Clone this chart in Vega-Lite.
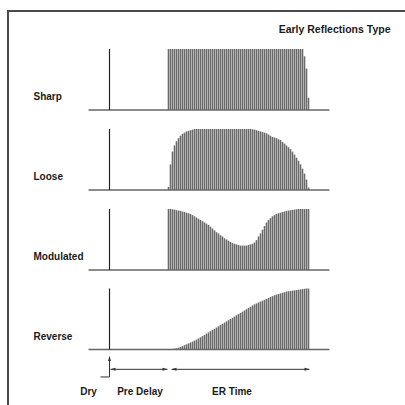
{
  "$schema": "https://vega.github.io/schema/vega-lite/v6.json",
  "width": 397,
  "height": 394,
  "autosize": {"type": "none"},
  "padding": {"left": 8, "top": 11, "right": 0, "bottom": 0},
  "background": "white",
  "view": {"stroke": null, "fill": "white"},
  "config": {"axis": {"disable": true}, "legend": {"disable": true}, "font": "Liberation Sans"},
  "datasets": {
    "sharp": [
      {"t":80,"h":1},{"t":82,"h":1},{"t":84,"h":1},{"t":86,"h":1},{"t":88,"h":1},{"t":90,"h":1},{"t":92,"h":1},{"t":94,"h":1},{"t":96,"h":1},{"t":98,"h":1},
      {"t":100,"h":1},{"t":102,"h":1},{"t":104,"h":1},{"t":106,"h":1},{"t":108,"h":1},{"t":110,"h":1},{"t":112,"h":1},{"t":114,"h":1},{"t":116,"h":1},{"t":118,"h":1},
      {"t":120,"h":1},{"t":122,"h":1},{"t":124,"h":1},{"t":126,"h":1},{"t":128,"h":1},{"t":130,"h":1},{"t":132,"h":1},{"t":134,"h":1},{"t":136,"h":1},{"t":138,"h":1},
      {"t":140,"h":1},{"t":142,"h":1},{"t":144,"h":1},{"t":146,"h":1},{"t":148,"h":1},{"t":150,"h":1},{"t":152,"h":1},{"t":154,"h":1},{"t":156,"h":1},{"t":158,"h":1},
      {"t":160,"h":1},{"t":162,"h":1},{"t":164,"h":1},{"t":166,"h":1},{"t":168,"h":1},{"t":170,"h":1},{"t":172,"h":1},{"t":174,"h":1},{"t":176,"h":1},{"t":178,"h":1},
      {"t":180,"h":1},{"t":182,"h":1},{"t":184,"h":1},{"t":186,"h":1},{"t":188,"h":1},{"t":190,"h":1},{"t":192,"h":1},{"t":194,"h":1},{"t":196,"h":1},{"t":198,"h":1},
      {"t":200,"h":1},{"t":202,"h":1},{"t":204,"h":1},{"t":206,"h":1},{"t":208,"h":1},{"t":210,"h":1},{"t":212,"h":1},{"t":214,"h":1},{"t":216,"h":0.88},{"t":218,"h":0.68},
      {"t":220,"h":0.2}
    ],
    "loose": [
      {"t":80,"h":0.05},{"t":82,"h":0.42},{"t":84,"h":0.63},{"t":86,"h":0.73},{"t":88,"h":0.8},{"t":90,"h":0.85},{"t":92,"h":0.89},{"t":94,"h":0.92},{"t":96,"h":0.94},{"t":98,"h":0.96},
      {"t":100,"h":0.97},{"t":102,"h":0.98},{"t":104,"h":0.99},{"t":106,"h":1},{"t":108,"h":1},{"t":110,"h":1},{"t":112,"h":1},{"t":114,"h":1},{"t":116,"h":1},{"t":118,"h":1},
      {"t":120,"h":1},{"t":122,"h":1},{"t":124,"h":1},{"t":126,"h":1},{"t":128,"h":1},{"t":130,"h":1},{"t":132,"h":1},{"t":134,"h":1},{"t":136,"h":1},{"t":138,"h":1},
      {"t":140,"h":1},{"t":142,"h":1},{"t":144,"h":1},{"t":146,"h":1},{"t":148,"h":1},{"t":150,"h":1},{"t":152,"h":1},{"t":154,"h":1},{"t":156,"h":1},{"t":158,"h":1},
      {"t":160,"h":1},{"t":162,"h":1},{"t":164,"h":0.995},{"t":166,"h":0.99},{"t":168,"h":0.98},{"t":170,"h":0.97},{"t":172,"h":0.96},{"t":174,"h":0.95},{"t":176,"h":0.94},{"t":178,"h":0.93},
      {"t":180,"h":0.91},{"t":182,"h":0.89},{"t":184,"h":0.87},{"t":186,"h":0.86},{"t":188,"h":0.85},{"t":190,"h":0.83},{"t":192,"h":0.82},{"t":194,"h":0.79},{"t":196,"h":0.76},{"t":198,"h":0.73},
      {"t":200,"h":0.7},{"t":202,"h":0.67},{"t":204,"h":0.63},{"t":206,"h":0.58},{"t":208,"h":0.53},{"t":210,"h":0.48},{"t":212,"h":0.42},{"t":214,"h":0.35},{"t":216,"h":0.27},{"t":218,"h":0.17},
      {"t":220,"h":0.04}
    ],
    "modulated": [
      {"t":80,"h":1},{"t":82,"h":1},{"t":84,"h":0.995},{"t":86,"h":0.99},{"t":88,"h":0.98},{"t":90,"h":0.975},{"t":92,"h":0.97},{"t":94,"h":0.96},{"t":96,"h":0.95},{"t":98,"h":0.94},
      {"t":100,"h":0.93},{"t":102,"h":0.92},{"t":104,"h":0.9},{"t":106,"h":0.88},{"t":108,"h":0.86},{"t":110,"h":0.84},{"t":112,"h":0.82},{"t":114,"h":0.8},{"t":116,"h":0.78},{"t":118,"h":0.76},
      {"t":120,"h":0.74},{"t":122,"h":0.71},{"t":124,"h":0.68},{"t":126,"h":0.65},{"t":128,"h":0.62},{"t":130,"h":0.6},{"t":132,"h":0.57},{"t":134,"h":0.55},{"t":136,"h":0.52},{"t":138,"h":0.5},
      {"t":140,"h":0.48},{"t":142,"h":0.46},{"t":144,"h":0.44},{"t":146,"h":0.43},{"t":148,"h":0.42},{"t":150,"h":0.41},{"t":152,"h":0.4},{"t":154,"h":0.4},{"t":156,"h":0.4},{"t":158,"h":0.4},
      {"t":160,"h":0.41},{"t":162,"h":0.42},{"t":164,"h":0.43},{"t":166,"h":0.45},{"t":168,"h":0.49},{"t":170,"h":0.55},{"t":172,"h":0.6},{"t":174,"h":0.66},{"t":176,"h":0.72},{"t":178,"h":0.78},
      {"t":180,"h":0.82},{"t":182,"h":0.85},{"t":184,"h":0.88},{"t":186,"h":0.9},{"t":188,"h":0.92},{"t":190,"h":0.93},{"t":192,"h":0.94},{"t":194,"h":0.95},{"t":196,"h":0.96},{"t":198,"h":0.97},
      {"t":200,"h":0.975},{"t":202,"h":0.98},{"t":204,"h":0.985},{"t":206,"h":0.99},{"t":208,"h":0.995},{"t":210,"h":1},{"t":212,"h":1},{"t":214,"h":1},{"t":216,"h":1},{"t":218,"h":1},
      {"t":220,"h":1}
    ],
    "reverse": [
      {"t":80,"h":0.003},{"t":82,"h":0.005},{"t":84,"h":0.01},{"t":86,"h":0.015},{"t":88,"h":0.02},{"t":90,"h":0.03},{"t":92,"h":0.04},{"t":94,"h":0.055},{"t":96,"h":0.07},{"t":98,"h":0.085},
      {"t":100,"h":0.1},{"t":102,"h":0.115},{"t":104,"h":0.13},{"t":106,"h":0.145},{"t":108,"h":0.16},{"t":110,"h":0.18},{"t":112,"h":0.2},{"t":114,"h":0.22},{"t":116,"h":0.24},{"t":118,"h":0.26},
      {"t":120,"h":0.28},{"t":122,"h":0.3},{"t":124,"h":0.32},{"t":126,"h":0.34},{"t":128,"h":0.36},{"t":130,"h":0.38},{"t":132,"h":0.4},{"t":134,"h":0.42},{"t":136,"h":0.44},{"t":138,"h":0.46},
      {"t":140,"h":0.48},{"t":142,"h":0.5},{"t":144,"h":0.52},{"t":146,"h":0.54},{"t":148,"h":0.56},{"t":150,"h":0.58},{"t":152,"h":0.6},{"t":154,"h":0.62},{"t":156,"h":0.64},{"t":158,"h":0.66},
      {"t":160,"h":0.68},{"t":162,"h":0.7},{"t":164,"h":0.72},{"t":166,"h":0.74},{"t":168,"h":0.755},{"t":170,"h":0.77},{"t":172,"h":0.785},{"t":174,"h":0.8},{"t":176,"h":0.815},{"t":178,"h":0.83},
      {"t":180,"h":0.845},{"t":182,"h":0.86},{"t":184,"h":0.875},{"t":186,"h":0.89},{"t":188,"h":0.9},{"t":190,"h":0.91},{"t":192,"h":0.92},{"t":194,"h":0.93},{"t":196,"h":0.94},{"t":198,"h":0.95},
      {"t":200,"h":0.955},{"t":202,"h":0.96},{"t":204,"h":0.965},{"t":206,"h":0.97},{"t":208,"h":0.975},{"t":210,"h":0.98},{"t":212,"h":0.985},{"t":214,"h":0.99},{"t":216,"h":0.995},{"t":218,"h":1},
      {"t":220,"h":1}
    ]
  },
  "data": {"values": [{}]},
  "layer": [
    {
      "mark": {"type": "rule", "color": "#4a4a4a", "strokeWidth": 2},
      "encoding": {
        "x": {"datum": -80.5, "type": "quantitative", "scale": {"domain": [0, 241], "range": [80.5, 321.5], "nice": false, "zero": false}},
        "y": {"datum": 5.549, "type": "quantitative", "scale": {"domain": [0, 1], "range": [338.5, 277.5], "nice": false, "zero": false}},
        "y2": {"datum": -1.2}
      }
    },
    {"mark": {"type": "rule", "color": "#4a4a4a", "strokeWidth": 2}, "encoding": {"x": {"datum": -81.5}, "x2": {"datum": 330}, "y": {"datum": 5.549}}},

    {"data": {"name": "sharp"}, "mark": {"type": "rule", "color": "#6a6a6a", "strokeWidth": 1.6, "yOffset": -239.5, "y2Offset": -239.5}, "encoding": {"x": {"field": "t", "type": "quantitative"}, "y": {"field": "h", "type": "quantitative"}, "y2": {"datum": 0}}},
    {"data": {"name": "loose"}, "mark": {"type": "rule", "color": "#6a6a6a", "strokeWidth": 1.6, "yOffset": -159.5, "y2Offset": -159.5}, "encoding": {"x": {"field": "t", "type": "quantitative"}, "y": {"field": "h", "type": "quantitative"}, "y2": {"datum": 0}}},
    {"data": {"name": "modulated"}, "mark": {"type": "rule", "color": "#6a6a6a", "strokeWidth": 1.6, "yOffset": -79.5, "y2Offset": -79.5}, "encoding": {"x": {"field": "t", "type": "quantitative"}, "y": {"field": "h", "type": "quantitative"}, "y2": {"datum": 0}}},
    {"data": {"name": "reverse"}, "mark": {"type": "rule", "color": "#6a6a6a", "strokeWidth": 1.6}, "encoding": {"x": {"field": "t", "type": "quantitative"}, "y": {"field": "h", "type": "quantitative"}, "y2": {"datum": 0}}},

    {"mark": {"type": "rule", "color": "#666666", "strokeWidth": 1.3}, "encoding": {"x": {"datum": 0}, "x2": {"datum": 241}, "y": {"datum": 0}}},
    {"mark": {"type": "rule", "color": "#666666", "strokeWidth": 1.3, "yOffset": -239.5}, "encoding": {"x": {"datum": 0}, "x2": {"datum": 241}, "y": {"datum": 0}}},
    {"mark": {"type": "rule", "color": "#666666", "strokeWidth": 1.3, "yOffset": -159.5}, "encoding": {"x": {"datum": 0}, "x2": {"datum": 241}, "y": {"datum": 0}}},
    {"mark": {"type": "rule", "color": "#666666", "strokeWidth": 1.3, "yOffset": -79.5}, "encoding": {"x": {"datum": 0}, "x2": {"datum": 241}, "y": {"datum": 0}}},

    {"mark": {"type": "rule", "color": "#222222", "strokeWidth": 1.2, "yOffset": -239.5, "y2Offset": -239.5}, "encoding": {"x": {"datum": 21}, "y": {"datum": 0}, "y2": {"datum": 1}}},
    {"mark": {"type": "rule", "color": "#222222", "strokeWidth": 1.2, "yOffset": -159.5, "y2Offset": -159.5}, "encoding": {"x": {"datum": 21}, "y": {"datum": 0}, "y2": {"datum": 1}}},
    {"mark": {"type": "rule", "color": "#222222", "strokeWidth": 1.2, "yOffset": -79.5, "y2Offset": -79.5}, "encoding": {"x": {"datum": 21}, "y": {"datum": 0}, "y2": {"datum": 1}}},
    {"mark": {"type": "rule", "color": "#222222", "strokeWidth": 1.2}, "encoding": {"x": {"datum": 21}, "y": {"datum": 0}, "y2": {"datum": 1}}},

    {"mark": {"type": "text", "align": "left", "baseline": "alphabetic", "fontSize": 10, "fontWeight": "bold", "color": "#1a1a1a", "yOffset": -239.5}, "encoding": {"text": {"value": "Sharp"}, "x": {"datum": -55}, "y": {"datum": 0.156}}},
    {"mark": {"type": "text", "align": "left", "baseline": "alphabetic", "fontSize": 10, "fontWeight": "bold", "color": "#1a1a1a", "yOffset": -159.5}, "encoding": {"text": {"value": "Loose"}, "x": {"datum": -55}, "y": {"datum": 0.156}}},
    {"mark": {"type": "text", "align": "left", "baseline": "alphabetic", "fontSize": 10, "fontWeight": "bold", "color": "#1a1a1a", "yOffset": -79.5}, "encoding": {"text": {"value": "Modulated"}, "x": {"datum": -55}, "y": {"datum": 0.156}}},
    {"mark": {"type": "text", "align": "left", "baseline": "alphabetic", "fontSize": 10, "fontWeight": "bold", "color": "#1a1a1a"}, "encoding": {"text": {"value": "Reverse"}, "x": {"datum": -55}, "y": {"datum": 0.156}}},

    {"mark": {"type": "text", "align": "right", "baseline": "alphabetic", "fontSize": 10.5, "fontWeight": "bold", "color": "#1a1a1a", "yOffset": -239.5}, "encoding": {"text": {"value": "Early Reflections Type"}, "x": {"datum": 302}, "y": {"datum": 1.267}}},

    {"mark": {"type": "rule", "color": "#333333", "strokeWidth": 1}, "encoding": {"x": {"datum": 22}, "x2": {"datum": 79}, "y": {"datum": -0.325}}},
    {"mark": {"type": "rule", "color": "#333333", "strokeWidth": 1}, "encoding": {"x": {"datum": 83}, "x2": {"datum": 221}, "y": {"datum": -0.325}}},
    {"mark": {"type": "rule", "color": "#333333", "strokeWidth": 1}, "encoding": {"x": {"datum": 21}, "y": {"datum": -0.12}, "y2": {"datum": -0.45}}},
    {"mark": {"type": "rule", "color": "#333333", "strokeWidth": 1}, "encoding": {"x": {"datum": 12}, "x2": {"datum": 21}, "y": {"datum": -0.45}}},

    {"mark": {"type": "point", "shape": "M0,0L2,-0.6L2,0.6Z", "filled": true, "size": 25, "color": "#333333", "opacity": 1}, "encoding": {"x": {"datum": 22}, "y": {"datum": -0.325}}},
    {"mark": {"type": "point", "shape": "M0,0L2,-0.6L2,0.6Z", "filled": true, "size": 25, "color": "#333333", "opacity": 1}, "encoding": {"x": {"datum": 83}, "y": {"datum": -0.325}}},
    {"mark": {"type": "point", "shape": "M0,0L-2,-0.6L-2,0.6Z", "filled": true, "size": 25, "color": "#333333", "opacity": 1}, "encoding": {"x": {"datum": 79}, "y": {"datum": -0.325}}},
    {"mark": {"type": "point", "shape": "M0,0L-2,-0.6L-2,0.6Z", "filled": true, "size": 25, "color": "#333333", "opacity": 1}, "encoding": {"x": {"datum": 221}, "y": {"datum": -0.325}}},
    {"mark": {"type": "point", "shape": "M0,0L-0.6,2L0.6,2Z", "filled": true, "size": 25, "color": "#333333", "opacity": 1}, "encoding": {"x": {"datum": 21}, "y": {"datum": -0.107}}},

    {"mark": {"type": "text", "align": "center", "baseline": "alphabetic", "fontSize": 10, "fontWeight": "bold", "color": "#1a1a1a"}, "encoding": {"text": {"value": "Dry"}, "x": {"datum": 0}, "y": {"datum": -0.746}}},
    {"mark": {"type": "text", "align": "center", "baseline": "alphabetic", "fontSize": 10, "fontWeight": "bold", "color": "#1a1a1a"}, "encoding": {"text": {"value": "Pre Delay"}, "x": {"datum": 51.5}, "y": {"datum": -0.746}}},
    {"mark": {"type": "text", "align": "center", "baseline": "alphabetic", "fontSize": 10, "fontWeight": "bold", "color": "#1a1a1a"}, "encoding": {"text": {"value": "ER Time"}, "x": {"datum": 143.5}, "y": {"datum": -0.746}}}
  ]
}
